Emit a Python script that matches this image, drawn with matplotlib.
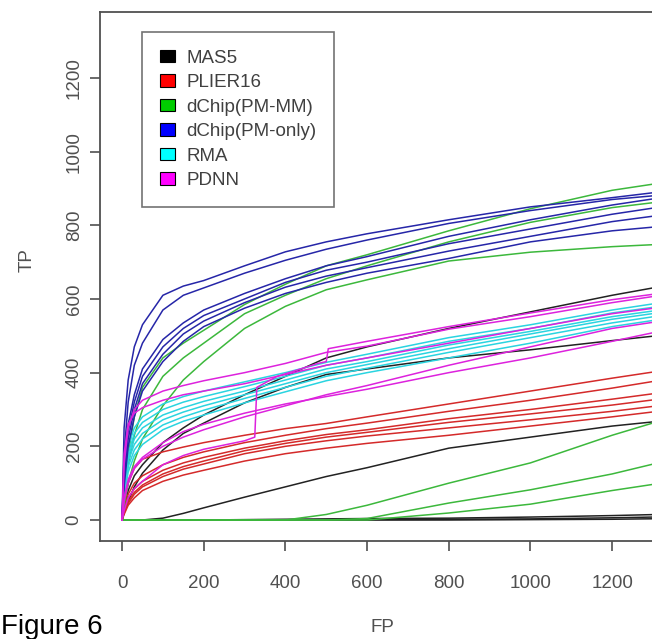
import matplotlib
matplotlib.use("Agg")
import matplotlib.pyplot as plt
from matplotlib.patches import Patch

plt.rcParams["font.family"] = ["Liberation Sans", "DejaVu Sans"]

# FP positions shared by most curves
fp = [0, 5, 15, 30, 50, 100, 150, 200, 300, 400, 500, 600, 800, 1000, 1200, 1350]

# TP values, one list per curve
mas5 = [
    [0, 30, 80, 120, 150, 210, 250, 285, 340, 390, 440, 470, 520, 565, 610, 640],
    [0, 20, 50, 90, 127, 190, 235, 263, 318, 360, 395, 410, 440, 462, 487, 505],
    [0, 0, 0, 0, 0, 5, 18, 33, 62, 90, 118, 142, 195, 225, 255, 272],
    [0, 0, 0, 0, 0, 0, 0, 0, 1, 2, 3, 4, 5, 8, 12, 16],
    [0, 0, 0, 0, 0, 0, 0, 0, 0, 0, 1, 1, 2, 3, 6, 9],
    [0, 0, 0, 0, 0, 0, 0, 0, 0, 0, 0, 0, 0, 1, 2, 4],
]
plier16 = [
    [0, 40, 100, 140, 165, 185, 198, 210, 230, 248, 262, 280, 315, 350, 385, 410],
    [0, 30, 70, 100, 120, 150, 170, 185, 210, 230, 248, 263, 295, 325, 358, 385],
    [0, 25, 60, 85, 105, 135, 155, 170, 195, 215, 232, 245, 275, 300, 328, 350],
    [0, 20, 50, 75, 95, 125, 145, 160, 188, 208, 225, 238, 265, 288, 312, 333],
    [0, 20, 45, 70, 90, 118, 138, 152, 180, 200, 215, 228, 250, 272, 295, 315],
    [0, 15, 40, 60, 80, 105, 122, 135, 160, 180, 195, 208, 230, 255, 280, 300],
]
dchip_mm = [
    [0, 80, 180, 280, 360, 440, 480, 515, 585, 640, 690, 720, 785, 845, 895, 920],
    [0, 60, 150, 230, 300, 390, 440, 480, 560, 610, 655, 690, 755, 808, 848, 868],
    [0, 40, 100, 160, 220, 310, 380, 430, 520, 580, 625, 652, 703, 727, 742, 750],
    [0, 0, 0, 0, 0, 0, 0, 0, 0, 0, 15, 40, 100, 155, 230, 280],
    [0, 0, 0, 0, 0, 0, 0, 0, 0, 0, 0, 4, 46, 82, 125, 165],
    [0, 0, 0, 0, 0, 0, 0, 0, 0, 0, 0, 0, 19, 43, 80, 105],
]
dchip_pm = [
    [0, 250, 380, 470, 530, 610, 635, 650, 690, 728, 755, 777, 815, 850, 875, 895],
    [0, 180, 320, 420, 480, 570, 610, 630, 670, 705, 735, 760, 805, 840, 870, 885],
    [0, 150, 260, 340, 410, 490, 535, 570, 615, 655, 690, 715, 770, 815, 855, 880],
    [0, 130, 240, 320, 390, 470, 520, 555, 600, 645, 678, 700, 750, 790, 830, 855],
    [0, 110, 220, 300, 370, 450, 505, 540, 590, 632, 662, 685, 730, 770, 810, 832],
    [0, 90, 200, 280, 350, 430, 485, 525, 575, 615, 645, 670, 710, 755, 785, 800],
]
rma = [
    [0, 120, 200, 250, 280, 315, 335, 350, 375, 400, 428, 450, 495, 530, 570, 595],
    [0, 110, 180, 235, 265, 300, 320, 335, 362, 390, 420, 440, 485, 520, 562, 585],
    [0, 100, 170, 220, 250, 285, 305, 322, 350, 380, 410, 430, 475, 512, 552, 575],
    [0, 90, 160, 205, 235, 272, 293, 310, 340, 370, 400, 422, 465, 505, 545, 568],
    [0, 80, 145, 190, 220, 258, 280, 298, 330, 360, 390, 412, 455, 495, 535, 560],
    [0, 70, 130, 175, 205, 245, 268, 285, 318, 348, 378, 400, 440, 480, 525, 550],
]
pdnn = [
    [0, 150, 250, 300, 325, 350, 365, 378, 400, 425, 455, 472, 518, 552, 590, 615],
    [0, 180, 260, 290, 305, 325, 340, 350, 370, 395, 420, 440, 480, 520, 560, 582],
    [0, 60, 110, 145, 170, 210, 240, 260, 290, 315, 335, 355, 400, 440, 485, 520],
    [0, 50, 100, 140, 165, 200, 225, 245, 280, 310, 340, 365, 420, 470, 520, 545],
]
# the PDNN curve with two jumps
pdnn_jump_fp = [0, 5, 15, 30, 50, 100, 150, 200, 300, 325, 330, 380, 480, 500, 505,
                600, 800, 1000, 1200, 1350]
pdnn_jump_tp = [0, 25, 60, 85, 105, 150, 175, 192, 215, 225, 360, 390, 425, 430, 465,
                485, 525, 562, 598, 620]

methods = ["MAS5", "PLIER16", "dChip(PM-MM)", "dChip(PM-only)", "RMA", "PDNN"]
legend_cols = ["#000000", "#ff0000", "#00cd00", "#0000ff", "#00ffff", "#ff00ff"]
line_cols = ["#222222", "#d42a2a", "#3cb83c", "#2626a8", "#2ad4e0", "#dd22dd"]

gray = "#505050"
fig = plt.figure(figsize=(6.52, 6.39), dpi=100)
ax = fig.add_axes([100 / 652, 98 / 639, 595 / 652, 529 / 639])

groups = [mas5, plier16, dchip_mm, rma, dchip_pm, pdnn]
group_cols = [line_cols[0], line_cols[1], line_cols[2], line_cols[4], line_cols[3], line_cols[5]]
for curves, col in zip(groups, group_cols):
    for tp in curves:
        ax.plot(fp, tp, color=col, lw=1.1)
ax.plot(pdnn_jump_fp, pdnn_jump_tp, color=line_cols[5], lw=1.1)

ax.set_xlim(-54, 1403)
ax.set_ylim(-57, 1379)
ax.set_xticks(range(0, 1201, 200))
ax.set_yticks(range(0, 1201, 200))
for s in ax.spines.values():
    s.set_color(gray)
    s.set_linewidth(1.3)
ax.tick_params(direction="out", length=7.5, width=1.2, color=gray,
               labelcolor=gray, labelsize=13.5)
ax.tick_params(axis="x", pad=17)
ax.tick_params(axis="y", pad=5)
for lab in ax.get_yticklabels():
    lab.set_rotation(90)
    lab.set_va("center")

fig.text(382 / 652, 1 - 628 / 639, "FP", ha="center", va="center",
         fontsize=13.5, color=gray)
fig.text(27 / 652, 1 - 260 / 639, "TP", ha="center", va="center",
         rotation=90, fontsize=13.5, color=gray)
fig.text(1 / 652, 1 - 634 / 639, "Figure 6", ha="left", va="baseline",
         fontsize=20, color="black")

handles = [Patch(facecolor=c, edgecolor="black", linewidth=0.8) for c in legend_cols]
leg = ax.legend(handles, methods, loc="upper left",
                bbox_to_anchor=(142 / 652, 1 - 32 / 639),
                bbox_transform=fig.transFigure, borderaxespad=0,
                fancybox=False, frameon=True, fontsize=13.5,
                handlelength=0.8, handleheight=0.65, handletextpad=0.6,
                labelspacing=0.4, borderpad=0.95)
leg.get_frame().set_edgecolor(gray)
leg.get_frame().set_linewidth(1.2)
for t in leg.get_texts():
    t.set_color("#404040")

fig.savefig("out.png", dpi=100)
